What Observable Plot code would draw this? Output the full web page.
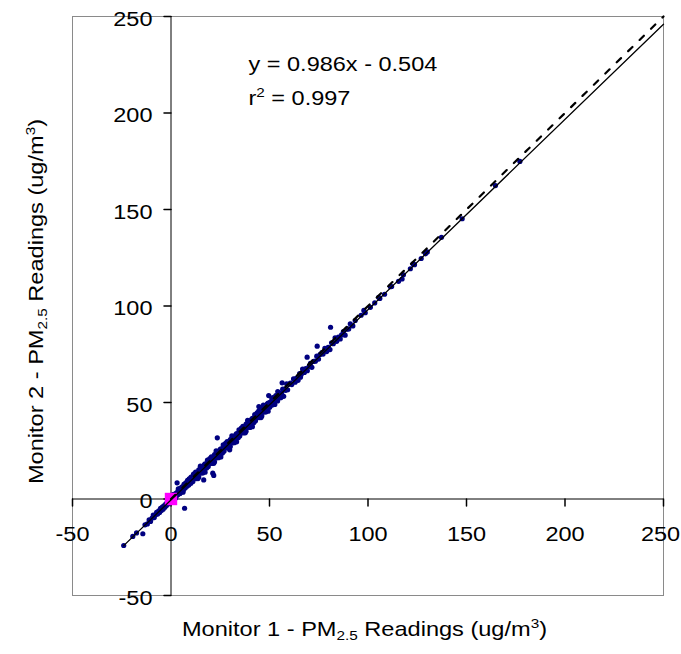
<!DOCTYPE html>
<html><head><meta charset="utf-8">
<script src="https://cdn.jsdelivr.net/npm/d3@7"></script>
<script src="https://cdn.jsdelivr.net/npm/@observablehq/plot@0.6"></script>
<style>html,body{margin:0;padding:0;background:#fff;} svg{display:block;}</style>
</head><body><div id="chart"></div>
<script>
// [Monitor 1, Monitor 2] readings (ug/m3)
const negativeReadings = [[-24.0,-24.1],[-19.4,-19.4],[-17.5,-17.6],[-14.3,-18.0],[-13.2,-13.4],[-12.0,-12.9],[-11.1,-10.8],[-10.4,-11.6],[-9.6,-9.9],[-9.0,-8.3],[-8.5,-9.6],[-7.9,-8.2],[-7.3,-6.9],[-6.8,-7.8],[-6.2,-6.1],[-5.8,-7.0],[-5.3,-4.9],[-4.9,-5.9],[-4.4,-4.2],[-4.0,-5.3],[-3.6,-3.5],[-3.1,-4.4],[-2.7,-2.6],[-2.3,-3.4],[-1.9,-1.5],[-1.5,-2.6],[-1.1,-1.2],[-0.7,-2.0],[-0.3,-0.4]];
const lowReadings = [[0.0,-1.3],[0.3,0.2],[0.6,-0.8],[0.9,0.9],[1.2,0.3],[1.5,-0.4],[1.8,2.0],[2.1,1.0],[2.4,0.6],[2.7,3.1],[3.1,8.4],[3.0,1.9],[3.3,2.2],[3.6,4.1],[3.9,2.6],[4.2,3.9],[4.5,2.9],[4.8,5.6],[5.1,4.1],[5.4,3.8],[5.7,6.3],[6.0,5.2],[6.3,4.6],[6.9,-4.8],[6.6,7.6],[6.9,5.9],[7.2,5.7],[7.5,8.4],[7.8,6.8],[8.1,6.6],[8.4,9.6],[8.7,7.9],[9.0,7.2],[9.3,10.5],[9.6,8.8],[9.9,8.6],[10.2,11.3],[10.5,9.4],[10.8,10.9],[11.1,9.1],[11.4,12.8],
[11.7,12.2],[12.1,10.6],[12.5,13.9],[12.9,10.6],[13.3,13.0],[13.7,10.6],[14.1,15.1],[14.5,13.5],[14.9,17.0],[15.3,13.5],[15.7,15.9],[16.1,13.5],[16.5,15.9],[16.9,17.7],[17.3,13.9],[17.7,17.6],[18.1,16.8],[18.5,20.1],[18.9,16.9],[19.3,19.6],[19.7,20.2],
[0.5,-0.4],[1.3,2.4],[2.1,0.2],[2.9,3.1],[3.7,5.2],[4.5,3.0],[5.3,5.0],[6.1,3.5],[6.9,7.6],[7.7,7.0],[8.5,7.5],[9.3,10.3],[10.1,8.1],[10.9,11.0],[11.7,13.0],[12.5,10.9],[13.3,12.9],[14.1,11.4],[14.9,15.5],[15.7,14.9],[16.5,15.4],[17.3,18.2],[18.1,16.0],[18.9,18.8],[19.7,20.9],
[16.6,9.9],[21.2,13.4],[21.7,12.2]];
const midReadings = [[20.1,18.5],[20.5,21.8],[20.9,18.5],[21.3,20.9],[21.7,18.5],[22.1,23.0],[22.5,21.4],[22.9,24.9],[23.3,21.4],[23.7,23.8],[24.1,21.4],[24.5,23.8],[24.9,25.6],[25.3,21.8],[25.7,25.5],[26.1,24.7],[26.5,28.0],[26.9,24.8],[27.3,27.5],[27.7,28.1],[28.1,26.5],[28.5,29.8],[28.9,26.5],[29.3,28.9],[29.7,26.5],
[30.1,30.8],[30.5,29.2],[30.9,32.7],[31.3,29.2],[31.7,31.6],[32.1,29.2],[32.5,31.6],[32.9,33.4],[33.3,29.6],[33.7,33.3],[34.1,32.5],[34.5,35.8],[34.9,32.6],[35.3,35.3],[35.7,35.9],[36.1,34.3],[36.5,37.6],[36.9,34.3],[37.3,36.7],[37.7,34.3],[38.1,38.8],[38.5,37.2],[38.9,40.7],[39.3,37.2],[39.7,39.6],
[40.1,37.1],[40.5,39.5],[40.9,41.3],[41.3,37.5],[41.7,41.2],[42.1,40.4],[42.5,43.7],[42.9,40.5],[43.3,43.2],[43.7,43.8],[44.1,42.2],[44.5,45.5],[44.9,42.2],[45.3,44.6],[45.7,42.2],[46.1,46.7],[46.5,45.1],[46.9,48.6],[47.3,45.1],[47.7,47.5],[48.1,45.1],[48.5,47.5],[48.9,49.3],[49.3,45.5],[49.7,49.2],
[50.2,50.1],[50.7,48.6],[51.2,52.0],[51.7,48.8],[52.2,51.3],[52.7,49.0],[53.2,53.6],[53.7,52.1],[54.2,55.7],[54.7,52.3],[55.2,54.8],[55.7,52.5],[56.2,55.0],[56.7,56.9],[57.2,53.2],[57.7,57.0],[58.2,56.3],[58.7,59.7],[59.2,56.6],[59.7,59.4],
[20.5,18.8],[21.3,20.8],[22.1,19.3],[22.9,23.4],[23.7,22.8],[24.5,23.3],[25.3,26.0],[26.1,23.8],[26.9,26.7],[27.7,28.8],[28.5,26.7],[29.3,28.7],[30.1,27.2],[30.9,31.3],[31.7,30.7],[32.5,31.1],[33.3,33.9],[34.1,31.7],[34.9,34.6],[35.7,36.7],[36.5,34.6],[37.3,36.6],[38.1,35.1],[38.9,39.2],[39.7,38.5],[40.5,39.0],[41.3,41.8],[42.1,39.6],[42.9,42.5],[43.7,44.6],[44.5,42.5],[45.3,44.5],[46.1,43.0],[46.9,47.0],[47.7,46.4],[48.5,46.9],[49.3,49.7],[50.1,47.5],[50.9,50.4],[51.7,52.5],[52.5,50.4],[53.3,52.4],[54.1,50.8],[54.9,54.9],[55.7,54.3],
[23.5,31.7],[29.8,25.5],[44.6,47.9],[49.6,53.6],[56.4,60.2]];
const upperReadings = [[60.6,60.0],[61.3,59.3],[62.2,62.2],[63.0,60.5],[63.6,62.5],[64.5,61.5],[65.3,65.0],[66.1,64.5],[66.8,67.3],[67.7,65.6],[68.4,67.6],[69.2,66.5],[70.1,68.7],[70.8,70.3],[71.5,68.2],[72.4,71.3],[73.3,71.4],[74.0,74.0],[74.9,72.5],[75.7,74.9],[76.6,75.9],[77.2,75.1],[78.1,78.0],[79.0,76.4],[79.8,78.6],[80.7,77.4],[81.5,80.9],[82.4,80.5],[83.3,83.5],[84.1,81.7],[85.0,83.9],[85.9,82.9],[86.6,85.0],[87.5,86.8],[88.4,84.9],[89.3,88.0],[90.2,88.1],[91.0,90.8],[92.3,89.7],[93.5,92.5],
[65.7,63.1],[69.1,73.5],[74.2,79.2],[81.0,89.0]];
const highReadings = [[96.5,95.2],[97.9,97.7],[98.6,96.5],[101.2,99.3],[103.4,101.6],[105.4,104.5],[106.0,103.9],[108.4,106.1],[111.4,110.0],[112.0,110.1],[115.5,112.8],[117.3,114.0],[118.0,116.2],[121.5,119.3],[122.9,121.8],[123.6,121.4],[127.0,124.6],[129.2,127.0],[130.1,128.0],[137.3,135.6],[147.8,145.2],[164.7,162.4],[177.1,174.9]];

const axisTicks = [-50, 0, 50, 100, 150, 200, 250];
const trendSlope = 0.986;
const trendIntercept = -0.504;
const trendRange = [-24.0, 250];
const rSquared = 0.997;
const identityLine = [[0, 0], [250, 250]];
const originMarker = [[0, 0]];
const xTitle = "Monitor 1 - PM2.5 Readings (ug/m3)";
const yTitle = "Monitor 2 - PM2.5 Readings (ug/m3)";

const readings = [...negativeReadings, ...lowReadings, ...midReadings, ...upperReadings, ...highReadings];
const trendLine = trendRange.map(x => [x, trendSlope * x + trendIntercept]);
const equation = `y = ${trendSlope}x - ${Math.abs(trendIntercept)}`;
const rText = `r2 = ${rSquared}`;

const tickShape = {draw(context, l) { context.moveTo(0, 0); context.lineTo(0, -l); }};

const chart = Plot.plot({
  width: 681, height: 654,
  marginLeft: 72, marginRight: 18, marginTop: 16, marginBottom: 59,
  x: {domain: [-50, 250], axis: null},
  y: {domain: [-50, 250], axis: null},
  style: {fontFamily: "'Liberation Sans', Arial, sans-serif", fontSize: "21px", background: "white", color: "black"},
  marks: [
    Plot.frame({stroke: "#8a8a8a"}),
    Plot.ruleX([0], {stroke: "black", strokeWidth: 1}),
    Plot.ruleY([0], {stroke: "black", strokeWidth: 1}),
    Plot.vector(axisTicks, {x: 0, y: d => d, length: 7, rotate: -90, anchor: "start", shape: tickShape, stroke: "black"}),
    Plot.vector(axisTicks, {x: d => d, y: 0, length: 7, rotate: 180, anchor: "start", shape: tickShape, stroke: "black"}),
    Plot.text(axisTicks, {x: 0, y: d => d, text: d => String(d), textAnchor: "end", dx: -18.5, dy: 2.5, fill: "black"}),
    Plot.text(axisTicks.slice(0, -1), {x: d => d, y: 0, text: d => String(d), textAnchor: "middle", dy: 35, fill: "black"}),
    Plot.text(axisTicks.slice(-1), {x: d => d, y: 0, text: d => String(d), textAnchor: "middle", dx: -3, dy: 35, fill: "black"}),
    Plot.dot(readings, {x: d => d[0], y: d => d[1], r: 2.6, fill: "#000080", stroke: null}),
    Plot.dot(originMarker, {x: d => d[0], y: d => d[1], symbol: "square", r: 7, fill: "#ff00ff", stroke: null}),
    Plot.line(trendLine, {x: d => d[0], y: d => d[1], stroke: "black", strokeWidth: 1.3}),
    Plot.line(identityLine, {x: d => d[0], y: d => d[1], stroke: "black", strokeWidth: 2.2, strokeDasharray: "6,10"}),
    Plot.text([equation], {text: d => d, frameAnchor: "top-left", dx: 176, dy: 39.5, textAnchor: "start", fill: "black"}),
    Plot.text([rText], {text: d => d, frameAnchor: "top-left", dx: 176, dy: 73.5, textAnchor: "start", fill: "black"}),
    Plot.text([xTitle], {text: d => d, frameAnchor: "bottom", dx: -3.5, dy: 40, textAnchor: "middle", fontSize: 20.5, fill: "black"}),
    Plot.text([yTitle], {text: d => d, frameAnchor: "left", rotate: -90, dx: -36, dy: -4.5, textAnchor: "middle", fontSize: 20.5, fill: "black"})
  ]
});

function richify(el, parts) {
  el.textContent = "";
  const ns = "http://www.w3.org/2000/svg";
  let shift = 0;
  for (const p of parts) {
    const ts = document.createElementNS(ns, "tspan");
    ts.textContent = p.t;
    const target = p.sub ? 4 : p.sup ? -8 : 0;
    if (target !== shift) { ts.setAttribute("dy", (target - shift) + "px"); shift = target; }
    if (p.sub || p.sup) ts.setAttribute("font-size", "65%");
    el.appendChild(ts);
  }
}

d3.select(chart).selectAll("text").each(function() {
  const s = this.textContent;
  let stretch = 1.12;
  if (s === xTitle || s === yTitle) {
    const num = s === xTitle ? "1" : "2";
    richify(this, [{t: `Monitor ${num} - PM`}, {t: "2.5", sub: true}, {t: " Readings (ug/m"}, {t: "3", sup: true}, {t: ")"}]);
    stretch = 1.15;
  } else if (s === rText) {
    richify(this, [{t: "r"}, {t: "2", sup: true}, {t: ` = ${rSquared}`}]);
  }
  const tr = this.getAttribute("transform") || "";
  this.setAttribute("transform", tr + ` scale(${stretch},1)`);
});

document.getElementById("chart").appendChild(chart);
</script>
</body></html>
